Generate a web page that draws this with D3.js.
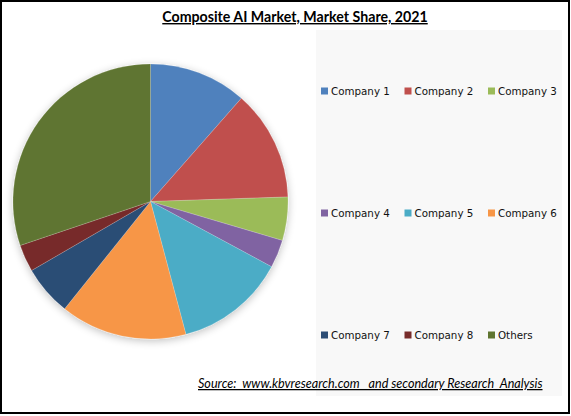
<!DOCTYPE html>
<html>
<head>
<meta charset="utf-8">
<script src="https://cdn.jsdelivr.net/npm/d3@7"></script>
<style>
  html, body { margin: 0; padding: 0; background: #fff; }
  svg { display: block; }
</style>
</head>
<body>
<svg id="chart" width="571" height="416"></svg>
<script>
const title = "Composite AI Market, Market Share, 2021";
const source = "Source:  www.kbvresearch.com   and secondary Research  Analysis";
const categories = ["Company 1", "Company 2", "Company 3", "Company 4", "Company 5", "Company 6", "Company 7", "Company 8", "Others"];
const shares = [11.5, 13.0, 5.1, 3.3, 13.0, 14.9, 5.9, 3.2, 30.2];
const colors = ["#4F81BD", "#C0504D", "#9BBB59", "#8064A2", "#4BACC6", "#F79646", "#2C4D75", "#772C2A", "#5F7530"];

const svg = d3.select("#chart");

// outer border
svg.append("rect").attr("x", 1).attr("y", 1).attr("width", 568).attr("height", 412)
  .attr("fill", "#fff").attr("stroke", "#000").attr("stroke-width", 2);

// legend background panel
svg.append("rect").attr("x", 316).attr("y", 30).attr("width", 246).attr("height", 366)
  .attr("fill", "#f8f8f8");

// shadow filter
const defs = svg.append("defs");
const f = defs.append("filter").attr("id", "shadow").attr("x", "-20%").attr("y", "-20%").attr("width", "140%").attr("height", "140%");
f.append("feGaussianBlur").attr("in", "SourceAlpha").attr("stdDeviation", 4).attr("result", "blur");
f.append("feOffset").attr("in", "blur").attr("dx", 0).attr("dy", 2).attr("result", "off");
f.append("feComponentTransfer").attr("in", "off").attr("result", "sh")
  .append("feFuncA").attr("type", "linear").attr("slope", 0.25);
const mg = f.append("feMerge");
mg.append("feMergeNode").attr("in", "sh");
mg.append("feMergeNode").attr("in", "SourceGraphic");

// title
svg.append("text").attr("x", 295).attr("y", 22).attr("text-anchor", "middle")
  .style("font-family", "Lato, 'Open Sans', sans-serif").style("font-weight", "bold")
  .style("font-size", "14.2px").style("text-decoration", "underline").attr("fill", "#000")
  .text(title);

// pie
const color = d3.scaleOrdinal().domain(categories).range(colors);
const pie = d3.pie().sort(null).value(d => d.v);
const data = categories.map((c, i) => ({ c, v: shares[i] }));
const radius = 137.5;
const arc = d3.arc().innerRadius(0).outerRadius(radius);
const g = svg.append("g").attr("transform", "translate(150.5,201.5)").attr("filter", "url(#shadow)");
g.selectAll("path").data(pie(data)).join("path")
  .attr("d", arc).attr("fill", d => color(d.data.c))
  .attr("stroke", "rgba(255,255,255,0.35)").attr("stroke-width", 0.5);

// legend
const colX = d3.scalePoint().domain([0, 1, 2]).range([321, 488]);
const rowY = d3.scalePoint().domain([0, 1, 2]).range([91, 335]);
const leg = svg.append("g");
categories.forEach((c, i) => {
  const x = colX(i % 3), y = rowY(Math.floor(i / 3));
  leg.append("rect").attr("x", x).attr("y", y - 3.5).attr("width", 7).attr("height", 7).attr("fill", color(c));
  leg.append("text").attr("x", x + 10).attr("y", y).attr("dy", "0.35em")
    .style("font-family", "'DejaVu Sans', Verdana, sans-serif").style("font-size", "10.3px")
    .attr("fill", "#111").text(c);
});

// source
svg.append("text").attr("x", 198).attr("y", 388).attr("xml:space", "preserve")
  .style("white-space", "pre")
  .style("font-family", "Lato, 'Open Sans', sans-serif").style("font-style", "italic")
  .style("font-size", "12.6px").style("text-decoration", "underline").attr("fill", "#000")
  .text(source);
</script>
</body>
</html>
